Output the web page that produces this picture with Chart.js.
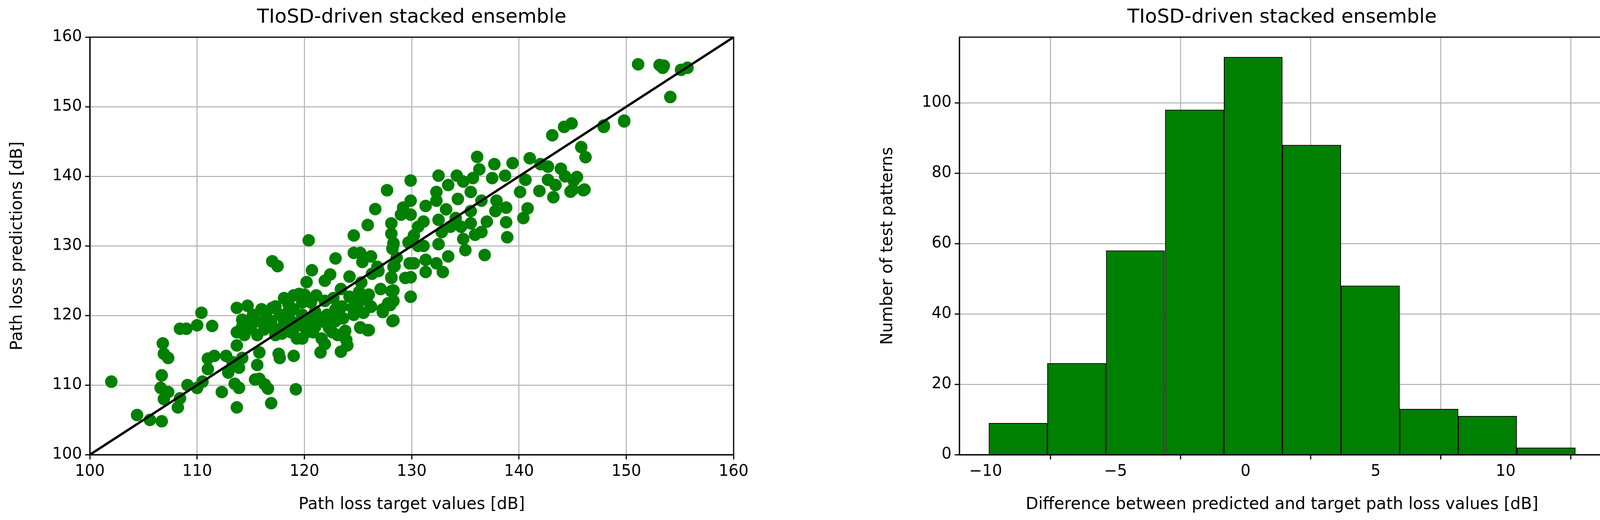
<!DOCTYPE html>
<html><head><meta charset="utf-8">
<script src="https://cdn.jsdelivr.net/npm/chart.js@4"></script>
<style>
body{margin:0;background:#fff;width:4137px;height:1330px;position:relative;overflow:hidden;font-family:"DejaVu Sans";}
canvas{position:absolute;top:0;}
.t{position:absolute;top:12px;font-size:50px;color:#000;text-align:center;white-space:nowrap;}
</style></head><body>
<canvas id="c1" width="2068" height="1330" style="left:0"></canvas>
<canvas id="c2" width="2069" height="1330" style="left:2068px"></canvas>
<div class="t" style="left:230px;width:1648px">TIoSD-driven stacked ensemble</div>
<div class="t" style="left:2456px;width:1652px">TIoSD-driven stacked ensemble</div>
<script>
const targetValues = [102,104.4,105.6,106.7,106.8,106.9,107.3,106.7,106.6,107.3,106.9,108.4,108.2,108.4,109,110,110.4,111.4,109.1,110,110.5,112.3,111,111,111.6,112.7,113.3,112.9,113.5,113.9,113.7,113.9,114.2,113.7,113.7,113.7,114.7,114.2,114.2,115.6,115.8,115.4,115.8,116.3,116.6,116.9,117,117.5,117.6,117.7,119,119.2,116,117,115.6,116.6,117.3,117.9,118.1,119,119.5,118.5,119.2,119.3,120.2,120.4,120.7,120.2,121.1,121.9,122.4,122.9,121.5,121.9,121.6,122.1,122.6,123.6,123.4,124.2,123.4,123.8,123.9,124,125.2,126,124.6,125.4,125.1,125.8,126.2,125.5,124.5,126.3,126.9,127.3,128.3,128.3,128.3,128,129.9,128.1,128.4,128.2,128.3,129.4,129.8,128.6,130.6,
115.2,114.8,115.6,116.5,116.9,117.7,118.1,118.75,119.6,119.8,120.6,121,121.5,122.1,122.9,123.5,124.8,120.6,119.8,118.5,117.3,119,120,121.9,122.7,124.2,125.2,126,127.1,124.6,122.3,121,120,118.75,117.5,116.25,115,114.4,119.8,120.8,122.9,123.1,
154.1,144.9,144.2,143.1,147.9,149.8,145.8,146.2,136.1,137.7,136.3,139.4,141,142,142.7,143.9,132.5,134.2,129.9,127.7,126.6,125.9,137.5,138.7,135.7,134.8,133.4,132.3,145.1,144.3,146,144.8,143.2,141.9,143.4,142.7,140.6,140.1,140.8,140.4,138.8,138.9,136.8,135,134.8,135.9,136.5,137,137.8,138.8,137.9,136.5,135.5,134.3,135.5,134.1,133.2,132.3,131.3,132.5,135.5,134.6,133.6,132.8,131.1,129.9,129.2,129,128.1,128.1,129.9,130.6,130.2,128.3,129.7,131.1,132.5,133.4,132.9,131.3,129.9,128.1,128.3,130.2,131.3,132.3,128.1,129.9,128.2,127.8,127.3,126.2,125.3,126.8,126.2,125.2,125.9,125.2,124.7,124.6,
151.1,153.1,153.5,153.4,155.1,155.7,149.8,147.9,145.4,145,146.1];
const predictedValues = [110.5,105.7,105,104.8,116,114.5,113.9,111.4,109.6,109,108,108.1,106.8,118.1,118.1,118.6,120.4,118.5,110,109.6,110.5,109,113.8,112.3,114.2,114.2,113.3,111.8,110.2,109.6,106.8,112.5,113.9,115.7,117.6,121.1,121.4,119.4,118.4,112.9,114.7,110.8,110.9,110.1,109.5,107.4,127.8,127.1,114.5,113.9,114.2,109.4,120.9,121.1,117.2,118.4,117.2,117.4,122.5,122.9,123.1,120.6,118.4,116.7,117.6,130.8,126.5,124.8,122.9,125,125.9,128.2,114.7,115.9,116.7,118.8,117.6,119.6,123.8,125.6,114.8,117.8,116.5,115.7,118.3,117.9,129,127.7,123.4,122.3,121.3,120.4,121.1,126,126.4,120.9,119.3,123.6,122.1,121.5,122.7,125.4,127.1,129.6,130.4,125.4,127.5,128.3,130,
120.1,118.8,119.2,119.6,119.2,120.1,119.2,119.2,119.2,120.1,119.6,120.5,119.2,120.1,120.9,121.3,121.7,121.9,121.9,121.7,121.3,120.9,123,122.1,122.5,122.7,122.1,123,123.8,120.1,118.2,118.4,118.4,117.6,118,118,118.2,117.2,116.7,117.6,119.2,117.2,
151.4,147.6,147.1,145.9,147.1,147.9,144.2,142.75,142.8,141.75,141,141.9,142.6,141.75,141.4,141.1,140.1,140.1,139.4,138,135.3,133,139.75,140.1,139.75,139.25,138.75,137.75,139.4,140,138,137.8,137,137.9,138.75,139.5,139.5,137.75,135.4,134,133.4,131.25,128.7,129.4,131,131.6,132,133.5,135,135.5,136.5,136.5,137.75,136.75,135,134,135.25,136.5,135.75,133.75,133.25,132.75,132.75,132,133.5,136.5,135.5,134.5,133.25,131.75,134.5,132.75,131.5,130.25,130.5,130,130.25,128.5,126.25,126.25,125.5,125.5,127,127.5,128,127.5,123.5,122.7,119.2,121.75,120.5,121.25,124.75,127,128.5,129,117.9,118.25,121.75,131.5,
156.1,156,155.9,155.6,155.3,155.6,148,147.3,139.9,138.1,138.1];
const scatterTicks = [100,110,120,130,140,150,160];
const binCenters = [-8.75,-6.5,-4.24,-1.97,0.29,2.54,4.8,7.05,9.3,11.56];
const binCounts = [9,26,58,98,113,88,48,13,11,2];
const histTicks = [-10,-5,0,5,10];

const FONT = {family:'DejaVu Sans', size:40};
const frame = {id:'frame', afterDraw(c){const a=c.chartArea,x=c.ctx;x.save();x.strokeStyle='#000';x.lineWidth=3;x.strokeRect(a.left,a.top,a.right-a.left,a.bottom-a.top);x.restore();}};
function axis(extra, w, h){
  return Object.assign({
    grid:{color:'#b0b0b0',lineWidth:2.5,tickLength:12,tickColor:'#000',tickWidth:3},
    border:{color:'#000',width:3},
    ticks:{color:'#000',font:FONT,padding:8,maxRotation:0,autoSkip:false},
    afterFit(s){ if(w) s.width=w; if(h) s.height=h; }
  }, extra);
}
Chart.defaults.font.family='DejaVu Sans';
new Chart(document.getElementById('c1'),{
  data:{datasets:[
    {type:'line',data:[{x:100,y:100},{x:160,y:160}],borderColor:'#000',borderWidth:6,pointRadius:0},
    {type:'scatter',data:targetValues.map((v,i)=>({x:v,y:predictedValues[i]})),backgroundColor:'#008000',borderColor:'#008000',pointRadius:16,borderWidth:0}
  ]},
  options:{responsive:false,devicePixelRatio:1,animation:false,
    layout:{padding:{left:0,right:190,top:95,bottom:0}},
    plugins:{legend:{display:false},tooltip:{enabled:false}},
    scales:{
      x:axis({type:'linear',min:100,max:160,afterBuildTicks(s){s.ticks=scatterTicks.map(v=>({value:v}));},
        title:{display:true,text:'Path loss target values [dB]',color:'#000',font:{family:'DejaVu Sans',size:42},padding:{top:10,bottom:14}}},0,167),
      y:axis({type:'linear',min:100,max:160,afterBuildTicks(s){s.ticks=scatterTicks.map(v=>({value:v}));},
        title:{display:true,text:'Path loss predictions [dB]',color:'#000',font:{family:'DejaVu Sans',size:42},padding:{top:20,bottom:10}}},230,0)
    }},
  plugins:[frame]
});
new Chart(document.getElementById('c2'),{
  type:'bar',
  data:{datasets:[{data:binCenters.map((v,i)=>({x:v,y:binCounts[i]})),backgroundColor:'#008000',borderColor:'#000',borderWidth:2,barPercentage:1,categoryPercentage:1,grouped:false}]},
  options:{responsive:false,devicePixelRatio:1,animation:false,
    layout:{padding:{left:170,right:29,top:95,bottom:0}},
    plugins:{legend:{display:false},tooltip:{enabled:false}},
    scales:{
      x:axis({type:'linear',min:-11.01,max:13.81,offset:false,afterBuildTicks(s){s.ticks=histTicks.map(v=>({value:v}));},
        ticks:{color:'#000',font:FONT,padding:8,maxRotation:0,autoSkip:false,callback:v=>String(v).replace('-','\u2212')},
        title:{display:true,text:'Difference between predicted and target path loss values [dB]',color:'#000',font:{family:'DejaVu Sans',size:42},padding:{top:10,bottom:14}}},0,167),
      y:axis({type:'linear',min:0,max:118.65,afterBuildTicks(s){s.ticks=[0,20,40,60,80,100].map(v=>({value:v}));},
        title:{display:true,text:'Number of test patterns',color:'#000',font:{family:'DejaVu Sans',size:42},padding:{top:10,bottom:10}}},218,0)
    }},
  plugins:[frame]
});
</script></body></html>
